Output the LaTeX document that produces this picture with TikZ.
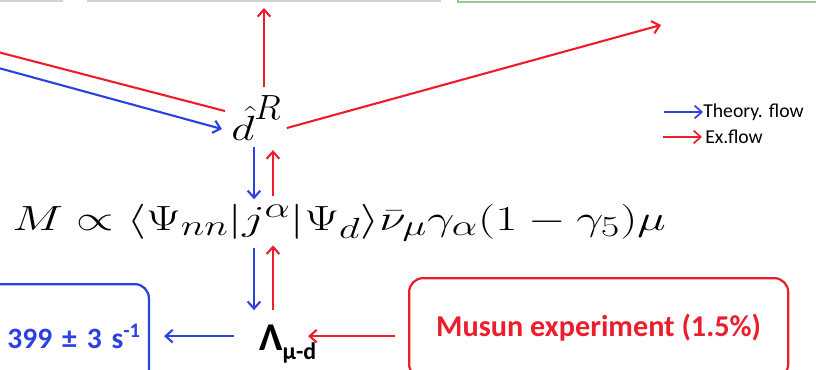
\documentclass[tikz,border=0pt]{standalone}
\usepackage{fontspec}
\newfontfamily\carlito{Carlito}
\usetikzlibrary{arrows.meta,positioning}
\definecolor{theoblue}{RGB}{45,65,225}
\definecolor{exred}{RGB}{235,30,45}
\definecolor{slidegray}{RGB}{210,210,210}
\definecolor{slidegreen}{RGB}{150,200,150}

\begin{document}
\begin{tikzpicture}[x=0.025cm,y=-0.025cm,theory/.style={draw=theoblue,line width=1.5pt,-{Straight Barb[length=5pt,width=9pt]}},ex/.style={draw=exred,line width=1.5pt,-{Straight Barb[length=5pt,width=9pt]}},result/.style={draw=theoblue,line width=1.6pt,rounded corners=10pt,text=theoblue,font=\carlito\bfseries\fontsize{21}{24}\selectfont},measure/.style={draw=exred,line width=1.6pt,rounded corners=10pt,text=exred,font=\carlito\bfseries\fontsize{21.5}{24}\selectfont},legend/.style={anchor=west,inner sep=0pt,font=\carlito\fontsize{14}{16}\selectfont}]
\useasboundingbox (0,0) rectangle (816,369);
\clip (0,0) rectangle (816,369);
% boxes of the slide above
\draw[slidegray,line width=1pt] (-20,-60) rectangle (62,1);
\draw[slidegray,line width=1pt] (88,-60) rectangle (440,1);
\draw[slidegreen,line width=1.2pt] (458,-60) rectangle (840,2);
\coordinate (toL) at (-60,37);
\coordinate (fromL) at (-60,52);
\coordinate (toM) at (264,8);
\coordinate (toR) at (661,25);
\coordinate (colT) at (254,0);
\coordinate (colE) at (273,0);
\node[anchor=base west,inner sep=0pt] (dR) at (231,140) {\fontsize{34}{38}\selectfont$\scalebox{1.3}[1]{$\hat{d}$}^{R}$};
\node[anchor=base west,inner sep=0pt] (amp) at (12,230) {\fontsize{31}{36}\selectfont\scalebox{1.38}[1]{$M\propto\langle\Psi_{nn}|j^\alpha|\Psi_d\rangle\bar\nu_\mu\gamma_\alpha(1-\gamma_5)\mu$}};
\node[anchor=base west,inner sep=0pt] (lam) at (259,350) {\carlito\bfseries{\fontsize{28}{30}\selectfont Λ}{\fontsize{17}{18}\selectfont\raisebox{-7pt}{μ-d}}};
\node[result,anchor=north east,minimum width=7.5cm,minimum height=2.6cm,text width=7.1cm,align=right] (rate) at (150,283) {= 399 ± 3 s\textsuperscript{-1}};
\node[measure,anchor=north west,minimum width=9.475cm,minimum height=2.5cm] (musun) at (408,277) {Musun experiment (1.5\%)};
\node[legend] (lgT) at (703,112) {Theory. flow};
\node[legend] (lgE) at (705,137) {Ex.flow};
% flows around d^R
\draw[ex,shorten <=6pt] (toM |- dR.north) -- (toM);
\draw[ex] ([shift={(-6,-7)}]dR.west) -- (toL);
\draw[theory] (fromL) -- ([shift={(-9,11)}]dR.west);
\draw[ex] ([shift={(5,10)}]dR.east) -- (toR);
\draw[theory,shorten <=5pt,shorten >=3pt] (colT |- dR.south) -- (colT |- amp.north);
\draw[ex,shorten <=5pt,shorten >=7pt] (colE |- amp.north) -- (colE |- dR.south);
% flows around Lambda
\draw[theory,shorten <=5pt,shorten >=10pt] (colT |- amp.south) -- (colT |- lam.north);
\draw[ex,shorten <=10pt,shorten >=3pt] (colE |- lam.north) -- (colE |- amp.south);
\draw[theory,shorten <=18pt,shorten >=10pt] (lam.west |- rate.east) -- (rate.east);
\draw[ex,shorten <=9pt] (musun.west |- rate.east) -- ([xshift=-6pt]lam.east |- rate.east);
% legend
\draw[theory,line width=1.2pt] ([shift={(-39,0)}]lgT.west) -- (lgT.west);
\draw[ex,line width=1.2pt] ([shift={(-42,0)}]lgE.west) -- ([shift={(-3,0)}]lgE.west);
\end{tikzpicture}
\end{document}
